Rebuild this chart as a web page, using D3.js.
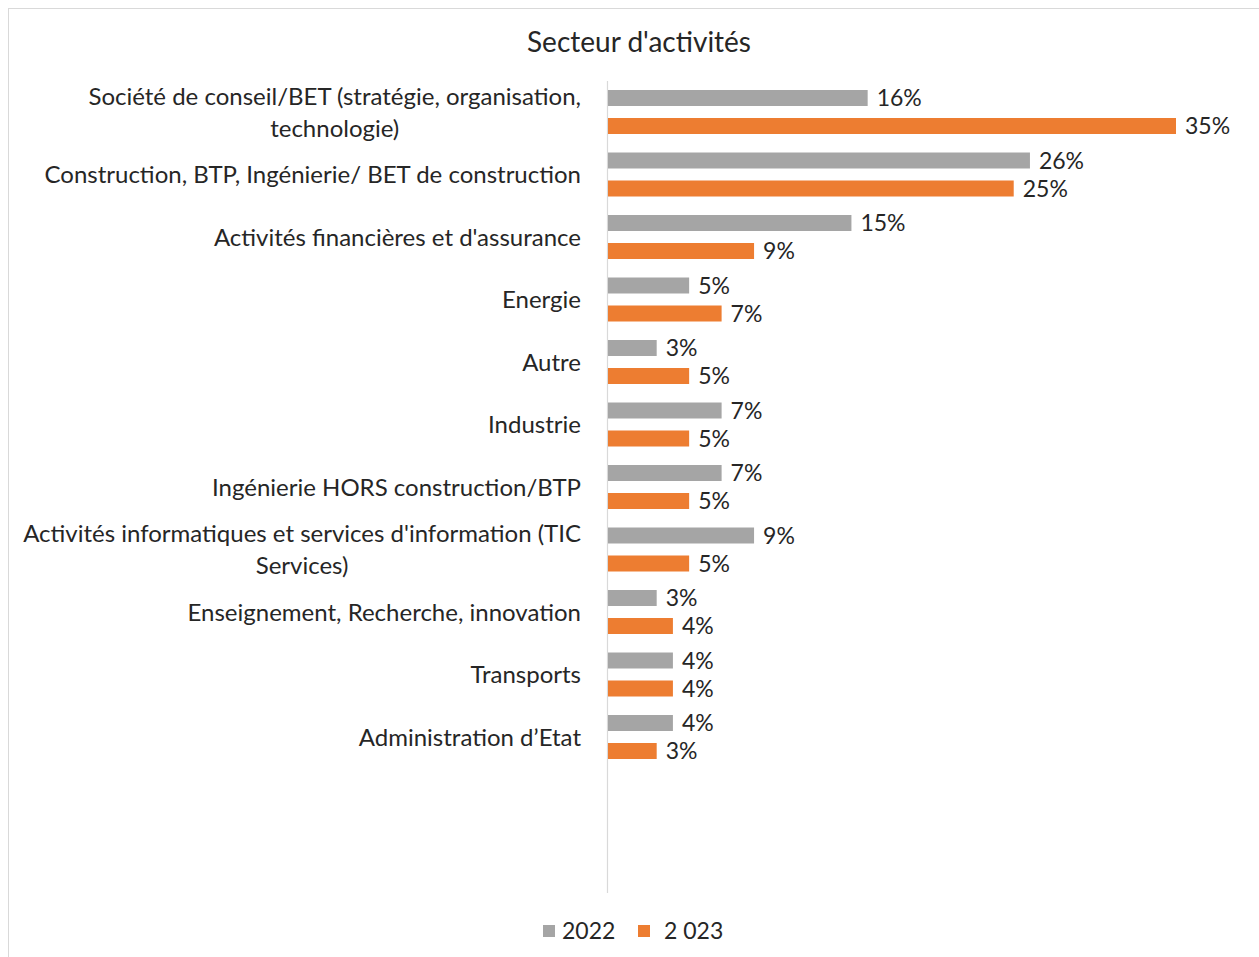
<!DOCTYPE html>
<html><head><meta charset="utf-8">
<script src="https://cdn.jsdelivr.net/npm/d3@7"></script>
<style>body{margin:0;background:#fff;} text{font-family:Lato,"Open Sans",sans-serif;fill:#262626;}</style>
</head><body>
<svg id="c" width="1259" height="957"></svg>
<script>
const title = "Secteur d'activités";
const categories = [
  ["Société de conseil/BET (stratégie, organisation,", "technologie)"],
  ["Construction, BTP, Ingénierie/ BET de construction"],
  ["Activités financières et d'assurance"],
  ["Energie"],
  ["Autre"],
  ["Industrie"],
  ["Ingénierie HORS construction/BTP"],
  ["Activités informatiques et services d'information (TIC", "Services)"],
  ["Enseignement, Recherche, innovation"],
  ["Transports"],
  ["Administration d’Etat"]
];
const seriesNames = ["2022", "2 023"];
const values2022 = [16, 26, 15, 5, 3, 7, 7, 9, 3, 4, 4];
const values2023 = [35, 25, 9, 7, 5, 5, 5, 5, 4, 4, 3];
const colors = ["#A5A5A5", "#ED7D31"];

const svg = d3.select("#c");
svg.append("rect").attr("x",8.5).attr("y",8.5).attr("width",1270).attr("height",960)
  .attr("fill","#fff").attr("stroke","#d9d9d9");

const x0 = 607, pxPer = 568/35;
const x = d3.scaleLinear().domain([0, 35]).range([x0, x0 + 35*pxPer]);
const idx = categories.map((d,i)=>i);
const y = d3.scaleBand().domain(idx).range([81, 81 + 11*62.5]).padding(0);
const ySub = d3.scaleBand().domain([0,1]).range([9, 53]).paddingInner(12/28).paddingOuter(0);

svg.append("text").attr("x", 639).attr("y", 42).attr("dy","0.36em").attr("text-anchor","middle")
  .attr("font-size", 28).text(title);

// axis line
svg.append("line").attr("x1", x0+0.5).attr("x2", x0+0.5).attr("y1", 81).attr("y2", 893)
  .attr("stroke", "#d9d9d9").attr("stroke-width", 1.2);

const series = [values2022, values2023];
series.forEach((vals, s) => {
  const g = svg.append("g");
  g.selectAll("rect").data(vals).join("rect")
    .attr("x", x(0)+1).attr("y", (d,i)=> y(i)+ySub(s))
    .attr("width", d => x(d)-x(0)).attr("height", ySub.bandwidth())
    .attr("fill", colors[s]);
  g.selectAll("text").data(vals).join("text")
    .attr("x", d => x(d)+10).attr("y", (d,i)=> y(i)+ySub(s)+ySub.bandwidth()/2)
    .attr("dy","0.36em").attr("font-size", 23).text(d => d + "%");
});

// category labels
const labelRight = 581;
categories.forEach((lines, i) => {
  const cy = y(i) + y.bandwidth()/2;
  const t = svg.append("text").attr("font-size", 24).attr("text-anchor","middle");
  const lh = 32;
  lines.forEach((ln, k) => {
    t.append("tspan").attr("y", cy + (k - (lines.length-1)/2)*lh).attr("dy","0.36em").text(ln);
  });
  const w = d3.max(t.selectAll("tspan").nodes(), n => n.getComputedTextLength());
  t.selectAll("tspan").attr("x", labelRight - w/2);
});

// legend
const legend = [{x:543, tx:562},{x:638, tx:664}];
legend.forEach((l, s) => {
  svg.append("rect").attr("x", l.x).attr("y", 925).attr("width", 12).attr("height", 12).attr("fill", colors[s]);
  svg.append("text").attr("x", l.tx).attr("y", 931).attr("dy","0.36em").attr("font-size", 23).text(seriesNames[s]);
});
</script>
</body></html>
